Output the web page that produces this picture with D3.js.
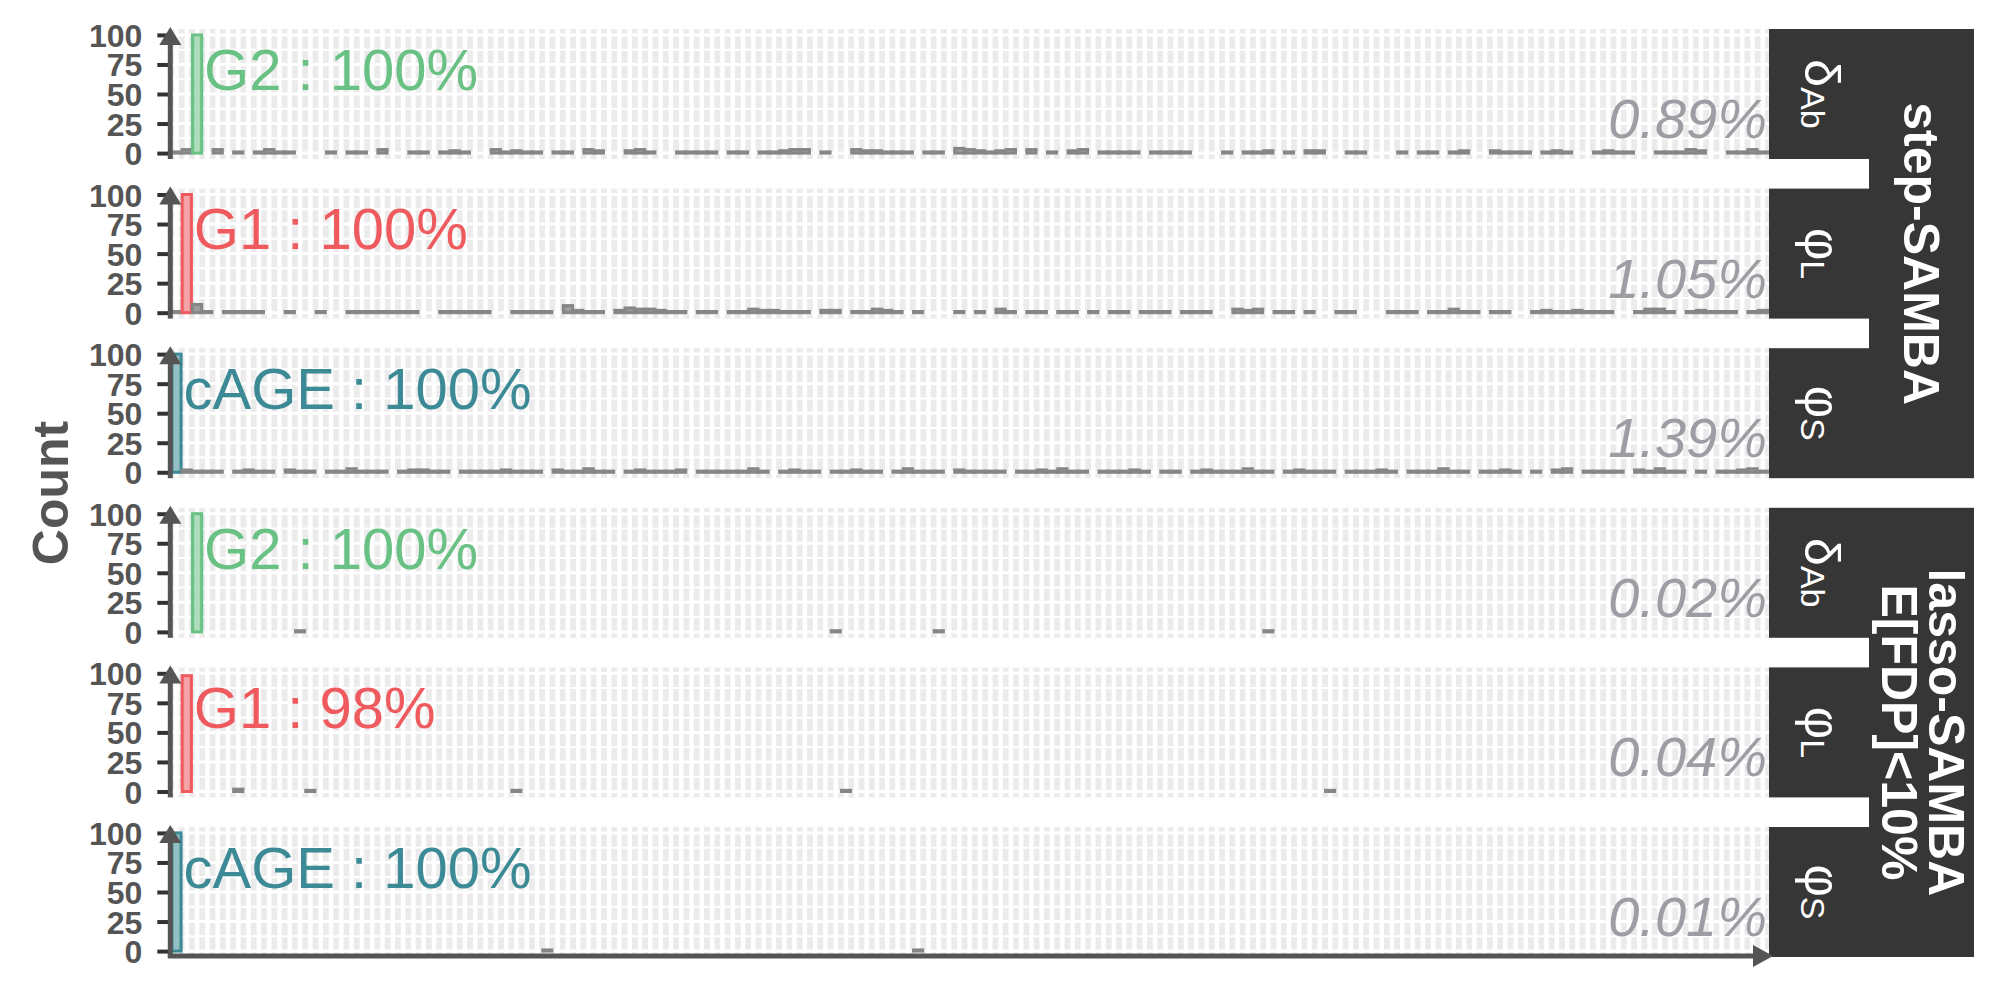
<!DOCTYPE html>
<html><head><meta charset="utf-8">
<script src="https://cdn.jsdelivr.net/npm/d3@7"></script>
<style>
body{margin:0;background:#fff;}
svg{display:block;font-family:"Liberation Sans",Arial,sans-serif;}
</style>
</head><body>
<svg id="chart" width="2000" height="1000"></svg>
<script>
// ---------------- DATA ----------------
const trueFeatures = ["cAGE", "G1", "G2"];
const otherFeatureCount = 152;

// step-SAMBA selection counts (out of 100 runs) per feature, in x order
const stepG2 = [
 1,3,100,0,3,0,1,0,1,3, 1,1,0,0,0,1,0,1,1,0, 3,0,0,1,1,0,1,2,1,0, 0,3,1,2,1,1,0,1,1,0,
 3,2,0,0,2,3,1,0,0,1, 1,1,1,0,1,1,0,1,1,2, 3,3,0,1,0,0,3,2,2,1, 1,1,0,1,1,0,4,3,2,1,
 2,3,0,3,0,1,0,2,3,0, 1,1,1,1,0,1,1,1,1,0, 0,0,1,0,1,1,2,0,1,0, 2,2,0,0,1,1,0,0,0,1,
 0,1,1,0,1,2,0,0,2,1, 1,1,0,1,2,1,0,0,1,2, 1,1,0,0,1,1,1,3,2,0, 0,1,1,3,1];
const stepG1 = [
 1,100,7,1,0,1,1,1,1,0, 0,1,0,0,1,0,0,1,1,1, 1,1,1,1,0,0,1,1,1,1, 1,0,0,1,1,1,1,0,6,2,
 1,1,0,2,4,3,3,2,1,1, 0,1,1,0,1,1,3,2,2,1, 1,1,0,2,2,0,1,1,3,2, 1,0,1,0,0,0,1,0,1,0,
 3,1,0,1,1,0,1,1,0,1, 0,1,1,0,1,1,1,0,1,1, 1,0,0,3,2,3,0,1,1,0, 1,0,0,1,1,0,0,0,1,1,
 1,0,1,1,3,1,1,0,1,1, 0,0,1,2,1,1,2,1,1,1, 0,0,1,3,3,1,0,1,2,1, 1,1,0,1,2];
const stepCAGE = [
 100,2,1,1,1,0,1,2,1,1, 0,2,1,1,0,1,1,3,1,1, 1,0,1,2,2,1,1,0,1,1, 1,1,2,1,1,1,0,2,1,1,
 3,1,1,0,1,2,1,1,1,2, 0,1,1,1,1,1,3,1,0,1, 2,1,1,0,1,1,2,1,1,0, 1,3,1,1,1,0,2,1,1,1,
 1,0,1,1,2,1,3,1,1,0, 1,1,1,2,1,0,1,1,0,1, 2,1,1,1,3,1,1,0,1,2, 1,1,1,0,1,1,1,2,1,0,
 1,1,1,3,1,1,0,1,1,2, 1,0,1,0,2,3,0,1,1,1, 1,0,2,1,3,1,1,0,1,0, 1,1,2,3,1];

// lasso-SAMBA: only non-zero features (position, count)
const lassoG2Index = [2, 12, 64, 74, 106];
const lassoG2Count = [100, 1, 1, 1, 1];
const lassoG1Index = [1, 6, 13, 33, 65, 112];
const lassoG1Count = [98, 2, 1, 1, 1, 1];
const lassoCAGEIndex = [0, 36, 72];
const lassoCAGECount = [100, 1, 1];

const panelTargets = ["G2", "G1", "cAGE", "G2", "G1", "cAGE"];
const panelLabels = ["G2 : 100%", "G1 : 100%", "cAGE : 100%", "G2 : 100%", "G1 : 98%", "cAGE : 100%"];
const otherRates = ["0.89%", "1.05%", "1.39%", "0.02%", "0.04%", "0.01%"];
const paramSymbols = ["δ", "φ", "φ", "δ", "φ", "φ"];
const paramSubs = ["Ab", "L", "S", "Ab", "L", "S"];
const methodLines = [["step-SAMBA"], ["lasso-SAMBA", "E[FDP]<10%"]];
const yTicks = [0, 25, 50, 75, 100];
const yTitle = "Count";

// ---------------- BUILD ----------------
const featureNames = trueFeatures.concat(d3.range(1, otherFeatureCount + 1).map(i => "F" + i));
function fromSparse(idx, cnt) {
  const a = new Array(featureNames.length).fill(0);
  idx.forEach((k, j) => { a[k] = cnt[j]; });
  return a;
}
const panelCounts = [stepG2, stepG1, stepCAGE,
  fromSparse(lassoG2Index, lassoG2Count),
  fromSparse(lassoG1Index, lassoG1Count),
  fromSparse(lassoCAGEIndex, lassoCAGECount)];

const colors = { G2: "#69C183", G1: "#EE5A5E", cAGE: "#3C8A96" };
const grey = "#868686";
const stripFill = "#363636";
const axisCol = "#555555";

const svg = d3.select("#chart");
const plotLeft = 170.3, plotRight = 1769;
const top0 = 29, pStep = 159.6, pH = 130;
const innerRight = 1869, outerRight = 1974;

const x = d3.scalePoint().domain(featureNames).range([plotLeft, plotRight]).padding(0.6);
const bw = x.step() * 0.9;

panelCounts.forEach((counts, i) => {
  const top = top0 + i * pStep, bottom = top + pH;
  const y = d3.scaleLinear().domain([-5, 105]).range([bottom, top]);
  const g = svg.append("g");
  g.append("rect").attr("x", plotLeft).attr("y", top).attr("width", plotRight - plotLeft).attr("height", pH).attr("fill", "#EBEBEB");
  // grid
  g.selectAll(".vg").data(featureNames).join("line")
    .attr("x1", d => x(d)).attr("x2", d => x(d)).attr("y1", top).attr("y2", bottom)
    .attr("stroke", "#fff").attr("stroke-width", 4.5);
  g.selectAll(".hg").data(d3.range(0, 101, 12.5)).join("line")
    .attr("x1", plotLeft).attr("x2", plotRight).attr("y1", d => y(d)).attr("y2", d => y(d))
    .attr("stroke", "#fff").attr("stroke-width", d => d % 25 === 0 ? 3 : 2);
  // bars
  const target = panelTargets[i];
  const data = featureNames.map((f, k) => ({ f, v: counts[k] })).filter(d => d.v > 0);
  g.selectAll(".bar").data(data).join("rect")
    .attr("x", d => x(d.f) - bw / 2).attr("width", bw)
    .attr("y", d => y(d.v)).attr("height", d => y(0) - y(d.v))
    .attr("fill", d => d.f === target ? colors[target] : grey)
    .attr("fill-opacity", d => d.f === target ? 0.55 : 0.8)
    .attr("stroke", d => d.f === target ? colors[target] : grey)
    .attr("stroke-width", 3);
  // labels
  g.append("text").attr("x", x(target) + 7).attr("y", y(53.5))
    .attr("font-size", 58).attr("fill", colors[target]).text(panelLabels[i]);
  g.append("text").attr("x", 1767).attr("y", top + 109).attr("text-anchor", "end")
    .attr("font-size", 56).attr("font-style", "italic").attr("fill", "#9D9DA4").text(otherRates[i]);
  // y axis
  const ax = g.append("g").attr("transform", `translate(${plotLeft},0)`)
    .call(d3.axisLeft(y).tickValues(yTicks).tickSize(13).tickPadding(15));
  ax.select(".domain").remove();
  ax.selectAll(".tick line").attr("stroke", "#333").attr("stroke-width", 4);
  ax.selectAll(".tick text").attr("font-size", 32).attr("font-weight", "bold")
    .attr("fill", axisCol).attr("dy", "0.36em").attr("font-family", "Liberation Sans, Arial, sans-serif");
  g.append("line").attr("x1", plotLeft).attr("x2", plotLeft).attr("y1", bottom).attr("y2", top + 10)
    .attr("stroke", axisCol).attr("stroke-width", 5);
  g.append("path").attr("d", `M${plotLeft},${top - 2}L${plotLeft + 11},${top + 16}L${plotLeft - 11},${top + 16}Z`).attr("fill", axisCol);
  // inner strip
  g.append("rect").attr("x", plotRight).attr("y", top).attr("width", innerRight - plotRight).attr("height", pH).attr("fill", stripFill);
  const st = g.append("text").attr("transform", `translate(1805,${top + pH / 2}) rotate(90)`)
    .attr("text-anchor", "middle").attr("fill", "#fff");
  st.append("tspan").attr("font-size", 50).text(paramSymbols[i]);
  st.append("tspan").attr("font-size", 34).attr("dy", 4).text(paramSubs[i]);
});

// outer strips
methodLines.forEach((lines, m) => {
  const top = top0 + (3 * m) * pStep;
  const bottom = top0 + (3 * m + 2) * pStep + pH;
  svg.append("rect").attr("x", innerRight).attr("y", top).attr("width", outerRight - innerRight)
    .attr("height", bottom - top).attr("fill", stripFill);
  const cy = (top + bottom) / 2;
  const gt = svg.append("g").attr("transform", `translate(1922,${cy}) rotate(90)`);
  const offs = lines.length === 1 ? [18] : [-7, 40];
  lines.forEach((t, j) => {
    gt.append("text").attr("x", 0).attr("y", offs[j]).attr("text-anchor", "middle")
      .attr("font-size", 50).attr("font-weight", "bold").attr("fill", "#fff").text(t);
  });
});

// x axis on bottom panel
const xb = top0 + 5 * pStep + pH - 1;
svg.append("line").attr("x1", plotLeft - 2.5).attr("x2", 1758).attr("y1", xb).attr("y2", xb)
  .attr("stroke", axisCol).attr("stroke-width", 5);
svg.append("path").attr("d", `M1773,${xb}L1753,${xb - 11}L1753,${xb + 11}Z`).attr("fill", axisCol);

// y title
svg.append("text").attr("transform", `translate(68,${(top0 + top0 + 5 * pStep + pH) / 2}) rotate(-90)`)
  .attr("text-anchor", "middle").attr("font-size", 50).attr("font-weight", "bold").attr("fill", axisCol).text(yTitle);
</script>
</body></html>
